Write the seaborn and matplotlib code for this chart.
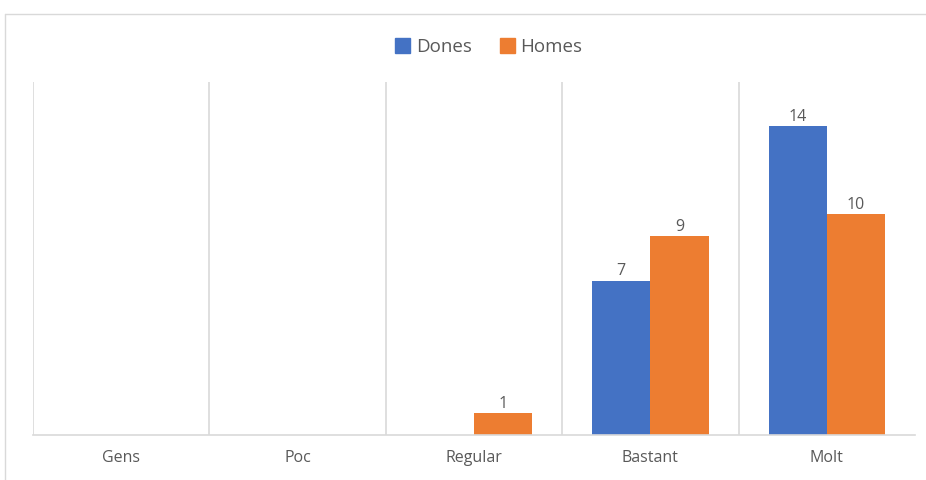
import pandas as pd
import matplotlib
matplotlib.use('Agg')
import matplotlib.pyplot as plt
import seaborn as sns
from matplotlib.lines import Line2D

# Chart data
categories = ['Gens', 'Poc', 'Regular', 'Bastant', 'Molt']
dones = [0, 0, 0, 7, 14]
homes = [0, 0, 1, 9, 10]

df = pd.DataFrame({
    'categoria': categories * 2,
    'valor': dones + homes,
    'grup': ['Dones'] * len(categories) + ['Homes'] * len(categories),
})

sns.set_theme(style='white')
plt.rcParams['font.family'] = ['Open Sans', 'DejaVu Sans']

fig = plt.figure(figsize=(9.26, 4.8), dpi=100)
ax = fig.add_axes([33 / 926, 45 / 480, (915 - 33) / 926, (435 - 82) / 480])

palette = {'Dones': '#4472C4', 'Homes': '#ED7D31'}
sns.barplot(data=df, x='categoria', y='valor', hue='grup', palette=palette,
            width=0.66, gap=0, linewidth=0, saturation=1, ax=ax, legend=False)

ax.set_ylim(0, 16)
ax.set_xlim(-0.5, 4.5)

# separators between categories
for x in [-0.5, 0.5, 1.5, 2.5, 3.5]:
    ax.axvline(x, color='#d9d9d9', lw=1.2, zorder=0)

for s in ['top', 'right', 'left']:
    ax.spines[s].set_visible(False)
ax.spines['bottom'].set_color('#d9d9d9')
ax.spines['bottom'].set_linewidth(1.2)

ax.set_yticks([])
ax.set_xlabel('')
ax.set_ylabel('')
ax.tick_params(axis='x', length=0, pad=11, labelsize=11.5, labelcolor='#595959')

# data labels, skip zeros
for cont in ax.containers:
    labels = [f'{b.get_height():.0f}' if b.get_height() > 0 else '' for b in cont]
    ax.bar_label(cont, labels=labels, padding=1, fontsize=11.5, color='#595959')

# legend
handles = [plt.Rectangle((0, 0), 1, 1, color=palette[k]) for k in ['Dones', 'Homes']]
fig.legend(handles, ['Dones', 'Homes'], loc='center', bbox_to_anchor=(489 / 926, 1 - 47 / 480),
           ncol=2, frameon=False, fontsize=13.5, labelcolor='#595959',
           handlelength=0.8, handleheight=0.8, handletextpad=0.3, columnspacing=1.5)

# chart area border
fig.add_artist(Line2D([5 / 926, 1], [1 - 14 / 480, 1 - 14 / 480], color='#d9d9d9', lw=1))
fig.add_artist(Line2D([5 / 926, 5 / 926], [0, 1 - 14 / 480], color='#d9d9d9', lw=1))

fig.savefig('out.png', dpi=100, facecolor='white')
